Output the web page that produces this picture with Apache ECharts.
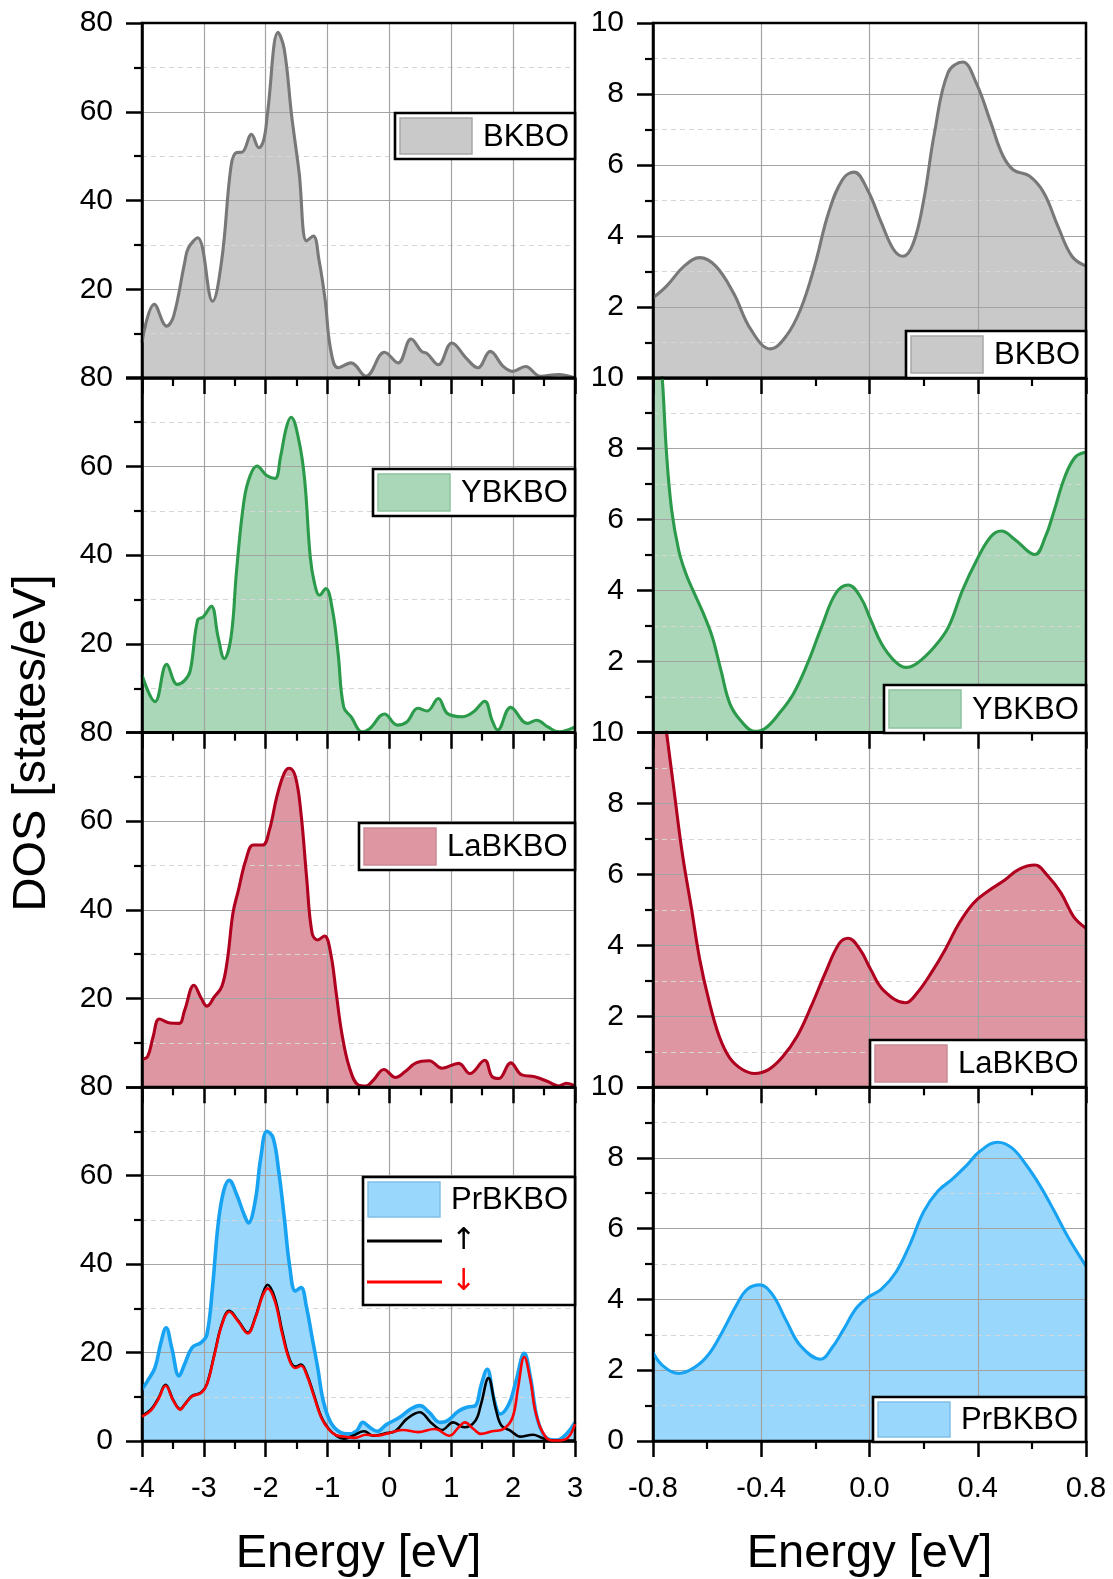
<!DOCTYPE html>
<html><head><meta charset="utf-8">
<script src="https://cdn.jsdelivr.net/npm/echarts@6/dist/echarts.min.js"></script>
<style>html,body{margin:0;padding:0;background:#fff}#c{width:1113px;height:1579px}</style>
</head><body><div id="c"></div>
<script>
// ---------------- DATA ----------------
const leftEnergyRange = [-4, 3];
const rightEnergyRange = [-0.8, 0.8];
const leftDosMax = 80;
const rightDosMax = 10;
const materials = ['BKBO', 'YBKBO', 'LaBKBO', 'PrBKBO'];
const spinLabels = ['↑', '↓'];
const xTitle = 'Energy [eV]';
const yTitle = 'DOS [states/eV]';

const bkboLeft = [[-4,8],[-3.8,16.6],[-3.6,11.7],[-3.49,13.9],[-3.31,26],[-3.25,29.3],[-3.1,31.6],[-2.86,17.3],[-2.71,26.7],[-2.56,47.8],[-2.47,50.8],[-2.38,50.9],[-2.23,54.9],[-2.11,51.9],[-2.03,53.8],[-1.97,59.8],[-1.8,77.9],[-1.7,74.1],[-1.58,59],[-1.46,46.3],[-1.34,30.9],[-1.23,32],[-1.14,26.7],[-1.04,17.7],[-0.95,6.4],[-0.83,2.3],[-0.62,3.4],[-0.38,0.4],[-0.08,5.8],[0.14,3.4],[0.35,8.8],[0.52,6],[0.61,5.5],[0.79,3],[1.01,7.9],[1.24,4.5],[1.43,2.3],[1.63,6],[1.84,2.6],[1.99,1.5],[2.2,2.6],[2.44,0.4],[2.74,0.8],[3,0]];
const ybkboLeft = [[-4,13],[-3.79,7],[-3.6,15.4],[-3.43,10.9],[-3.31,11.8],[-3.22,14],[-3.1,25.4],[-3.01,26.1],[-2.88,28.5],[-2.77,21.6],[-2.67,16.7],[-2.56,21.6],[-2.47,36.7],[-2.35,52.4],[-2.25,58],[-2.14,60.1],[-1.99,58],[-1.85,57.3],[-1.76,62.2],[-1.67,68.6],[-1.59,71.1],[-1.46,65.6],[-1.37,56.9],[-1.28,39.6],[-1.21,33.6],[-1.13,31],[-1.03,32.5],[-0.92,27.6],[-0.83,17.9],[-0.74,5.8],[-0.62,3.6],[-0.44,0.2],[-0.32,0.9],[-0.08,4.2],[0.13,1.7],[0.28,2.4],[0.46,5.5],[0.61,4.9],[0.79,7.7],[0.94,4.3],[1.18,3.6],[1.36,4.7],[1.54,7.1],[1.66,2.8],[1.75,0.6],[1.96,5.7],[2.23,2.1],[2.38,2.8],[2.56,1.3],[2.74,0.2],[3,1.3]];
const labkboLeft = [[-4,6.3],[-3.91,6.9],[-3.82,11.4],[-3.72,15.4],[-3.55,14.5],[-3.4,14.4],[-3.31,17.4],[-3.16,23],[-3.04,20],[-2.95,18.3],[-2.83,20.4],[-2.71,22.7],[-2.62,28.7],[-2.53,39.2],[-2.44,44.5],[-2.32,51.3],[-2.2,54.6],[-2.05,54.6],[-1.94,58],[-1.82,65.5],[-1.7,70.8],[-1.62,71.9],[-1.52,70],[-1.43,61.8],[-1.34,47.5],[-1.25,34.7],[-1.16,33.2],[-1.05,34.1],[-0.95,30.2],[-0.86,21.2],[-0.77,12.2],[-0.65,4.6],[-0.5,0.5],[-0.38,0.3],[-0.26,1.6],[-0.09,4],[0.1,2.2],[0.25,3.5],[0.43,5.5],[0.64,6],[0.85,4.3],[1.12,5.4],[1.3,3.1],[1.54,6.1],[1.66,2.4],[1.77,2],[1.96,5.5],[2.14,2.8],[2.35,2.4],[2.56,1.3],[2.74,0.3],[2.86,0.9],[3,0.3]];
const prbkboLeft = [[-4,11.7],[-3.91,13.6],[-3.79,16.6],[-3.7,21.9],[-3.61,25.6],[-3.52,21.1],[-3.4,14.7],[-3.31,17.4],[-3.19,21.1],[-3.04,22.3],[-2.95,24.1],[-2.86,34.7],[-2.77,48.9],[-2.68,56.5],[-2.59,58.9],[-2.47,55.7],[-2.35,51.2],[-2.28,49.3],[-2.17,54.2],[-2.08,64],[-1.98,70],[-1.88,68.5],[-1.79,61],[-1.7,50.5],[-1.61,39.2],[-1.52,33.9],[-1.43,34.7],[-1.34,30.2],[-1.25,23.4],[-1.16,16.6],[-1.07,9.1],[-0.95,4.2],[-0.8,2],[-0.65,1.6],[-0.53,2.3],[-0.43,4.2],[-0.32,3.1],[-0.2,2.2],[-0.05,3.7],[0.16,5.3],[0.34,7.2],[0.49,8],[0.64,6.5],[0.82,4.2],[0.94,4.6],[1.12,6.8],[1.27,7.7],[1.39,8],[1.48,12.5],[1.58,16.2],[1.69,9.5],[1.79,6.1],[1.93,8.3],[2.04,13.2],[2.18,19.8],[2.28,14.4],[2.4,4.6],[2.56,0.5],[2.71,0.2],[2.86,1.6],[3,4.2]];
const prSpinUp = [[-4,5.7],[-3.85,7.2],[-3.73,9.8],[-3.62,12.7],[-3.49,9.1],[-3.38,7.2],[-3.31,8.3],[-3.19,10.2],[-3.04,11],[-2.95,12.9],[-2.83,19.6],[-2.71,26.4],[-2.59,29.4],[-2.44,27.1],[-2.29,24.5],[-2.17,27.9],[-2.05,33.2],[-1.97,35.3],[-1.85,32.2],[-1.73,24.6],[-1.61,18.3],[-1.52,16.8],[-1.43,17.3],[-1.34,15.3],[-1.22,10.4],[-1.1,5.4],[-0.98,2.7],[-0.86,1.2],[-0.74,0.5],[-0.59,1.2],[-0.41,2.2],[-0.26,1.2],[-0.08,1.7],[0.1,2.3],[0.28,5],[0.49,6.5],[0.67,4.2],[0.85,2.5],[1.03,4.2],[1.21,3.1],[1.39,4.6],[1.48,8.3],[1.6,14.2],[1.72,7.2],[1.81,3.5],[1.96,2.3],[2.11,1],[2.32,1.4],[2.47,0.7],[2.62,0.1],[3,0.1]];
const prSpinDown = [[-4,5.5],[-3.85,7],[-3.73,9.6],[-3.62,12.5],[-3.49,9],[-3.38,7.1],[-3.31,8.2],[-3.19,10.1],[-3.04,10.9],[-2.95,12.8],[-2.83,19.4],[-2.71,26.2],[-2.59,29.2],[-2.44,26.9],[-2.29,24.3],[-2.17,27.7],[-2.05,32.8],[-1.97,34.5],[-1.85,31.5],[-1.73,24],[-1.61,18],[-1.52,16.5],[-1.43,17],[-1.34,15],[-1.22,10.1],[-1.1,5.2],[-0.98,2.6],[-0.86,1.3],[-0.74,1],[-0.56,0.7],[-0.38,1.4],[-0.2,1.2],[0.04,2],[0.22,2.5],[0.46,2],[0.73,2.7],[0.97,1.2],[1.12,3.1],[1.22,4.2],[1.36,2.7],[1.48,1.6],[1.66,2.2],[1.84,2.7],[1.99,5.3],[2.08,12.1],[2.18,19],[2.28,13.6],[2.37,6.1],[2.53,0.8],[2.68,0.1],[2.86,0.5],[3,3.8]];

const bkboRight = [[-0.8,2.26],[-0.75,2.59],[-0.685,3.15],[-0.627,3.39],[-0.568,3.15],[-0.503,2.4],[-0.438,1.36],[-0.366,0.82],[-0.308,1.18],[-0.255,1.93],[-0.203,3.15],[-0.151,4.66],[-0.099,5.6],[-0.057,5.8],[-0.008,5.31],[0.044,4.37],[0.089,3.62],[0.124,3.43],[0.162,3.8],[0.2,5.0],[0.24,6.9],[0.29,8.6],[0.344,8.9],[0.395,8.3],[0.448,7.2],[0.493,6.26],[0.532,5.86],[0.591,5.69],[0.644,5.22],[0.696,4.28],[0.748,3.43],[0.8,3.15]];
const ybkboRight = [[-0.8,13],[-0.766,10],[-0.75,7.87],[-0.731,6.27],[-0.705,5.14],[-0.679,4.49],[-0.653,4.02],[-0.614,3.36],[-0.581,2.7],[-0.549,1.76],[-0.516,0.82],[-0.477,0.35],[-0.425,0.04],[-0.386,0.12],[-0.334,0.54],[-0.281,1.1],[-0.229,1.95],[-0.177,2.98],[-0.125,3.92],[-0.079,4.16],[-0.034,3.83],[0.005,3.17],[0.044,2.51],[0.09,2.04],[0.133,1.84],[0.175,1.95],[0.24,2.42],[0.292,2.98],[0.344,4.02],[0.396,4.86],[0.448,5.52],[0.487,5.68],[0.539,5.43],[0.611,5.02],[0.65,5.52],[0.683,6.27],[0.722,7.21],[0.761,7.77],[0.8,7.9]];
const labkboRight = [[-0.8,13],[-0.75,10],[-0.724,8.47],[-0.692,6.6],[-0.659,5.09],[-0.627,3.59],[-0.594,2.46],[-0.555,1.43],[-0.516,0.82],[-0.47,0.5],[-0.425,0.39],[-0.373,0.5],[-0.321,0.86],[-0.268,1.43],[-0.216,2.27],[-0.164,3.21],[-0.112,4.05],[-0.079,4.2],[-0.034,3.87],[0.005,3.31],[0.051,2.74],[0.133,2.38],[0.175,2.65],[0.227,3.21],[0.279,3.87],[0.331,4.62],[0.383,5.18],[0.435,5.51],[0.5,5.84],[0.552,6.14],[0.611,6.26],[0.656,5.98],[0.708,5.47],[0.754,4.81],[0.8,4.48]];
const prbkboRight = [[-0.8,2.5],[-0.764,2.13],[-0.705,1.91],[-0.646,2.08],[-0.594,2.45],[-0.542,3.11],[-0.49,3.86],[-0.451,4.29],[-0.405,4.41],[-0.359,4.14],[-0.307,3.39],[-0.255,2.69],[-0.18,2.31],[-0.138,2.64],[-0.099,3.11],[-0.047,3.77],[-0.001,4.08],[0.044,4.29],[0.097,4.76],[0.149,5.55],[0.201,6.49],[0.253,7.06],[0.305,7.39],[0.357,7.77],[0.409,8.19],[0.474,8.44],[0.526,8.28],[0.578,7.81],[0.631,7.2],[0.683,6.49],[0.735,5.74],[0.8,4.94]];

const leftSets = [bkboLeft, ybkboLeft, labkboLeft, prbkboLeft];
const rightSets = [bkboRight, ybkboRight, labkboRight, prbkboRight];

// ---------------- STYLE / LAYOUT ----------------
const FONT = '"Liberation Sans", Arial, Helvetica, sans-serif';
const lineColors = ['#787878', '#2b9a4a', '#b0001f', '#18a3f2'];
const fillColors = ['#c9c9c9', '#a9d7b8', '#de97a2', '#9ad7fd'];
const swatchBorders = ['#a8a8a8', '#8cc49e', '#c98a94', '#7fc0e8'];
const colLeft = [142, 653];
const W = 433, H = 355;
const rowTop = [23, 377.7, 732.3, 1087];
const SMOOTH = 0.4;

const grids = [], xAxes = [], yAxes = [], series = [], graphics = [];
const axisBase = {
  type: 'value', z: 3,
  axisLine: { show: true, onZero: false, lineStyle: { color: '#000', width: 2.5 } },
  axisTick: { show: true, inside: false, length: 16, lineStyle: { color: '#000', width: 2.5 } },
  minorTick: { show: true, splitNumber: 2, length: 8, lineStyle: { color: '#000', width: 2.2 } },
  splitLine: { show: true, lineStyle: { color: '#a3a3a3', width: 1.2 } }
};

for (let r = 0; r < 4; r++) {
  for (let c = 0; c < 2; c++) {
    const gi = r * 2 + c;
    grids.push({ left: colLeft[c], top: rowTop[r], width: W, height: H, show: true,
      borderColor: '#000', borderWidth: 2.5, backgroundColor: 'transparent', z: 6 });
    const xr = c ? rightEnergyRange : leftEnergyRange;
    xAxes.push(Object.assign({}, axisBase, {
      gridIndex: gi, min: xr[0], max: xr[1], interval: c ? 0.4 : 1,
      minorSplitLine: { show: false },
      axisLabel: { show: r === 3, margin: 33, fontSize: 29, fontFamily: FONT, color: '#000',
        formatter: c ? (v => v.toFixed(1)) : (v => String(Math.round(v))) },
      name: r === 3 ? xTitle : '', nameLocation: 'middle', nameGap: 90,
      nameTextStyle: { fontSize: 47, fontFamily: FONT, color: '#000' }
    }));
    yAxes.push(Object.assign({}, axisBase, {
      gridIndex: gi, min: 0, max: c ? rightDosMax : leftDosMax, interval: c ? 2 : 20,
      minorSplitLine: { show: true, lineStyle: { color: '#d6d6d6', width: 1, type: [5, 4] } },
      axisLabel: { show: true, showMinLabel: r === 3, margin: 29, fontSize: 30, fontFamily: FONT, color: '#000' }
    }));
    const data = c ? rightSets[r] : leftSets[r];
    series.push({ type: 'line', name: materials[r] + (c ? ' fill R' : ' fill L'), xAxisIndex: gi, yAxisIndex: gi,
      data: data, smooth: SMOOTH, symbol: 'none', silent: true, z: 1,
      lineStyle: { width: 0, opacity: 0 }, areaStyle: { color: fillColors[r], opacity: 1 } });
    series.push({ type: 'line', name: materials[r] + (c ? ' R' : ' L'), xAxisIndex: gi, yAxisIndex: gi,
      data: data, smooth: SMOOTH, symbol: 'none', silent: true, z: 5,
      lineStyle: { color: lineColors[r], width: (r === 3 && c === 0) ? 3.6 : 3.1 } });
  }
}
// spin-resolved PrBKBO lines
series.push({ type: 'line', name: spinLabels[0], xAxisIndex: 6, yAxisIndex: 6, data: prSpinUp,
  smooth: SMOOTH, symbol: 'none', silent: true, z: 6, lineStyle: { color: '#000', width: 2.6 } });
series.push({ type: 'line', name: spinLabels[1], xAxisIndex: 6, yAxisIndex: 6, data: prSpinDown,
  smooth: SMOOTH, symbol: 'none', silent: true, z: 7, lineStyle: { color: '#ff0000', width: 2.6 } });

// legends (drawn as boxes)
const legendBoxes = [
  // [col, row, width, top, height]
  [0, 0, 180, 113, 46], [0, 1, 202, 469, 47], [0, 2, 216, 823, 47], [0, 3, 212, 1177, 128],
  [1, 0, 180, 331, 47], [1, 1, 202, 685, 48], [1, 2, 216, 1040, 47], [1, 3, 213, 1397, 45]
];
legendBoxes.forEach(([c, r, w, y, h]) => {
  const x = colLeft[c] + W - w;
  graphics.push({ type: 'rect', z: 20, shape: { x: x, y: y, width: w, height: h },
    style: { fill: '#fff', stroke: '#000', lineWidth: 2.6 } });
  const sh = (r === 3 && c === 0) ? 35 : h - 10;
  graphics.push({ type: 'rect', z: 21, shape: { x: x + 5, y: y + 5, width: 72, height: sh },
    style: { fill: fillColors[r], stroke: swatchBorders[r], lineWidth: 1.5 } });
  graphics.push({ type: 'text', z: 21, style: { text: materials[r], x: x + 88, y: y + 5 + sh / 2 + 1,
    font: '31px ' + FONT, fill: '#000', align: 'left', verticalAlign: 'middle' } });
  if (r === 3 && c === 0) {
    [[y + 64, '#000', spinLabels[0]], [y + 105, '#ff0000', spinLabels[1]]].forEach(([ly, col, lab]) => {
      graphics.push({ type: 'line', z: 21, shape: { x1: x + 4, y1: ly, x2: x + 79, y2: ly },
        style: { stroke: col, lineWidth: 3 } });
      graphics.push({ type: 'text', z: 21, style: { text: lab, x: x + 88, y: ly, font: '30px "DejaVu Sans", ' + FONT,
        fill: col, align: 'left', verticalAlign: 'middle' } });
    });
  }
});
graphics.push({ type: 'text', z: 21, x: 32, y: 743, rotation: Math.PI / 2,
  style: { text: yTitle, font: '47px ' + FONT, fill: '#000', align: 'center', verticalAlign: 'middle' } });

const chart = echarts.init(document.getElementById('c'), null, { renderer: 'canvas' });
chart.setOption({
  animation: false,
  backgroundColor: '#fff',
  grid: grids, xAxis: xAxes, yAxis: yAxes, series: series, graphic: graphics
});
</script></body></html>
